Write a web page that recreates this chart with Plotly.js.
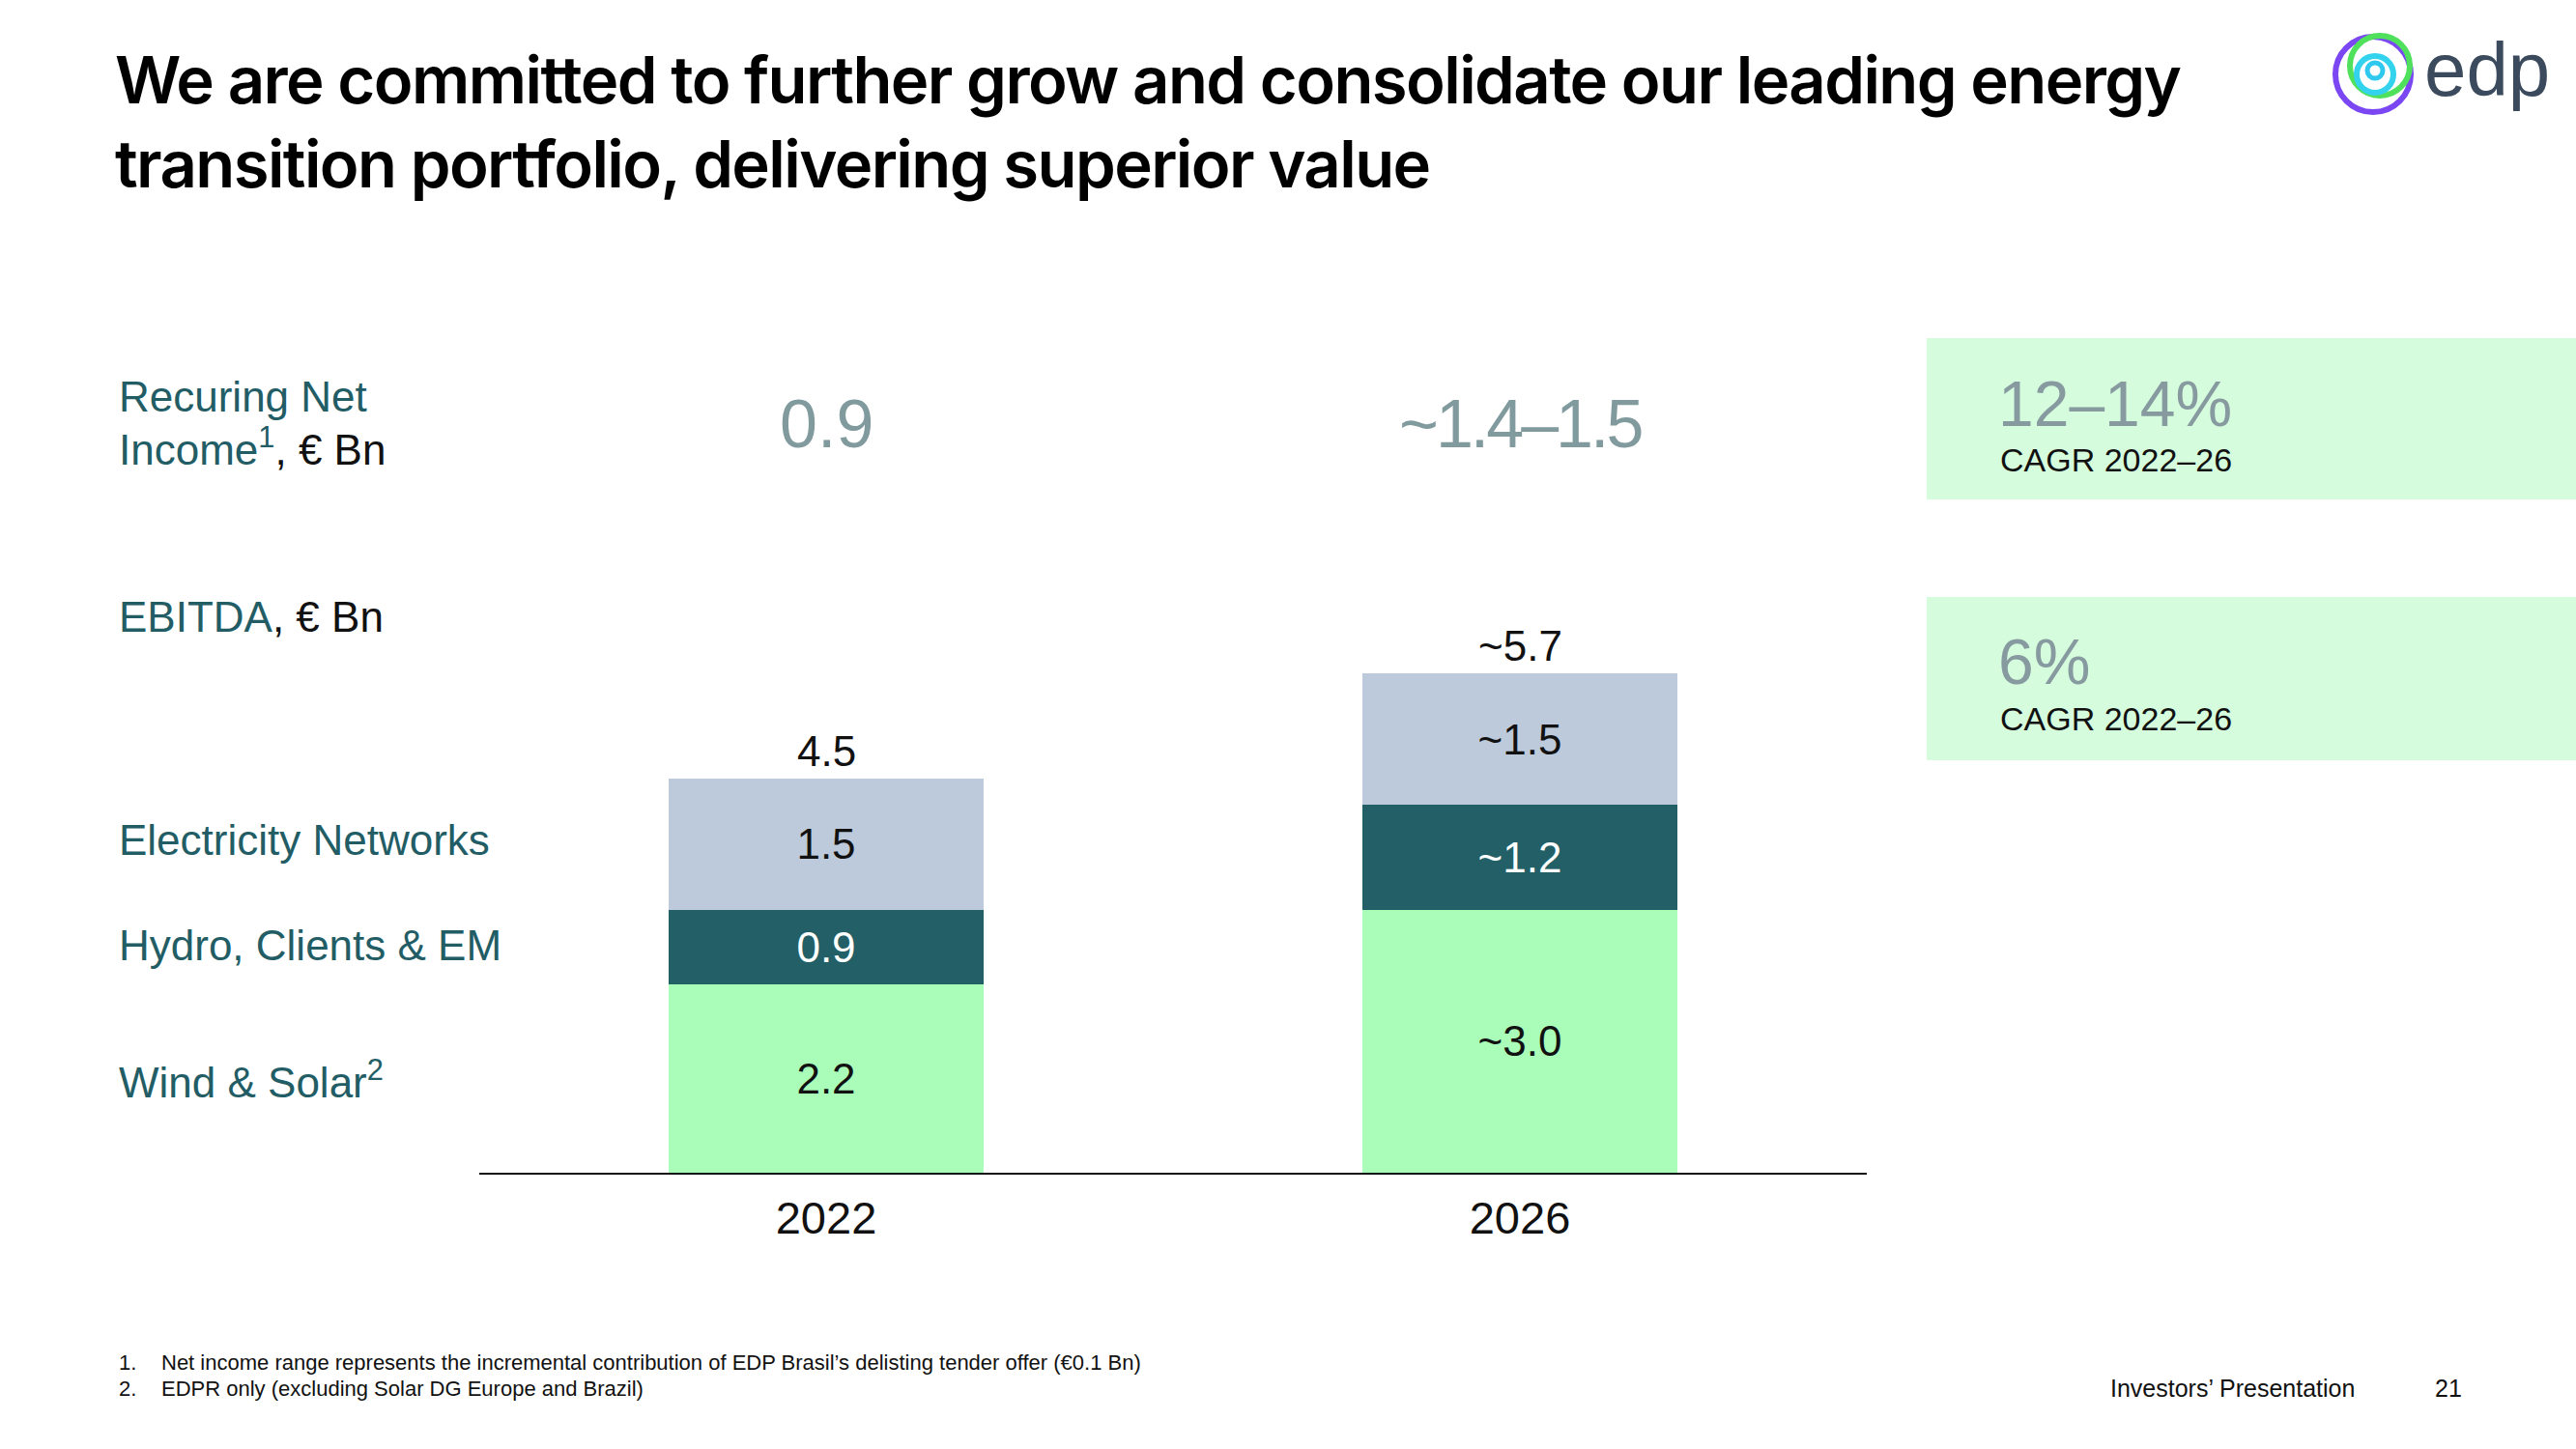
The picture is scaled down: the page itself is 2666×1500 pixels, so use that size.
<!DOCTYPE html>
<html><head><meta charset="utf-8">
<script src="https://cdn.plot.ly/plotly-3.0.1.min.js"></script>
<style>
html,body{margin:0;padding:0;background:#fff;}
#chart{width:2666px;height:1500px;}
.gtitle{letter-spacing:-1.6px;}
.annotation[data-index="3"] .annotation-text{letter-spacing:-3px;}
</style></head>
<body><div id="chart"></div>
<script>
// ---- data ----
const years = ['2022', '2026'];
const windSolar = [2.15, 3.0];
const hydroClients = [0.85, 1.2];
const networks = [1.5, 1.5];
const windLabels = ['2.2', '~3.0'];
const hydroLabels = ['0.9', '~1.2'];
const networkLabels = ['1.5', '~1.5'];
const ebitdaTotals = ['4.5', '~5.7'];
const netIncome = ['0.9', '~1.4–1.5'];
const cagrValues = ['12–14%', '6%'];
const cagrPeriod = 'CAGR 2022–26';
const seriesNames = ['Wind & Solar', 'Hydro, Clients & EM', 'Electricity Networks'];
const footnotes = [
  'Net income range represents the incremental contribution of EDP Brasil’s delisting tender offer (€0.1 Bn)',
  'EDPR only (excluding Solar DG Europe and Brazil)'
];

// ---- helpers ----
const W = 2666, H = 1500;
const px = x => x / W;
const py = y => 1 - y / H;
const FONT = 'Liberation Sans, Arial, sans-serif';
const TEAL = '#225d65';
const GREY = '#809a9e';

const colors = {wind: '#a9fdb8', hydro: '#235f66', net: '#bccadb'};
const barWidth = 0.454;

function barTrace(name, y, text, color, txtColor) {
  return {
    type: 'bar', name: name, x: years, y: y, text: text,
    textposition: 'inside', insidetextanchor: 'middle', constraintext: 'none',
    textfont: {family: FONT, size: 44, color: txtColor},
    marker: {color: color, line: {width: 0}},
    width: barWidth, hoverinfo: 'skip', showlegend: false
  };
}

const data = [
  barTrace(seriesNames[0], windSolar, windLabels, colors.wind, '#111'),
  barTrace(seriesNames[1], hydroClients, hydroLabels, colors.hydro, '#ffffff'),
  barTrace(seriesNames[2], networks, networkLabels, colors.net, '#111')
];

const annotations = [];
// totals above bars and net income row (category axis: position by category index)
years.forEach((yr, i) => {
  annotations.push({
    x: i, y: windSolar[i] + hydroClients[i] + networks[i], xref: 'x', yref: 'y',
    text: ebitdaTotals[i], showarrow: false, yanchor: 'bottom', yshift: 2,
    font: {family: FONT, size: 44, color: '#111'}
  });
  annotations.push({
    x: i, y: py(439), xref: 'x', yref: 'paper',
    text: netIncome[i], showarrow: false, yanchor: 'middle',
    font: {family: FONT, size: 70, color: GREY}
  });
});

// left labels
function leftLabel(text, y, size) {
  annotations.push({
    x: px(121), y: py(y), xref: 'paper', yref: 'paper', xanchor: 'left', yanchor: 'middle',
    align: 'left', text: text, showarrow: false,
    font: {family: FONT, size: size || 44, color: TEAL}
  });
}
leftLabel('Recuring Net', 410);
leftLabel('Income<sup>1</sup><span style="color:#111">, € Bn</span>', 462);
leftLabel('EBITDA<span style="color:#111">, € Bn</span>', 639);
leftLabel(seriesNames[2], 869);
leftLabel(seriesNames[1], 978);
leftLabel(seriesNames[0] + '<sup>2</sup>', 1117);

// CAGR boxes
const cagrY = [[418, 476], [685, 744]];
cagrValues.forEach((v, i) => {
  annotations.push({
    x: px(2066), y: py(cagrY[i][0]), xref: 'paper', yref: 'paper', xanchor: 'left', yanchor: 'middle',
    text: v, showarrow: false, font: {family: FONT, size: 66, color: '#869aa0'}
  });
  annotations.push({
    x: px(2068), y: py(cagrY[i][1]), xref: 'paper', yref: 'paper', xanchor: 'left', yanchor: 'middle',
    text: cagrPeriod, showarrow: false, font: {family: FONT, size: 34, color: '#111'}
  });
});

// footnotes
const fnY = [1410, 1437];
footnotes.forEach((t, i) => {
  annotations.push({
    x: px(121), y: py(fnY[i]), xref: 'paper', yref: 'paper', xanchor: 'left', yanchor: 'middle',
    text: (i + 1) + '.', showarrow: false, font: {family: FONT, size: 22, color: '#111'}
  });
  annotations.push({
    x: px(165), y: py(fnY[i]), xref: 'paper', yref: 'paper', xanchor: 'left', yanchor: 'middle',
    text: t, showarrow: false, font: {family: FONT, size: 22, color: '#111'}
  });
});
annotations.push({
  x: px(2182), y: py(1437), xref: 'paper', yref: 'paper', xanchor: 'left', yanchor: 'middle',
  text: 'Investors’ Presentation', showarrow: false, font: {family: FONT, size: 25, color: '#111'}
});
annotations.push({
  x: px(2534), y: py(1437), xref: 'paper', yref: 'paper', xanchor: 'center', yanchor: 'middle',
  text: '21', showarrow: false, font: {family: FONT, size: 25, color: '#111'}
});
// logo wordmark
annotations.push({
  x: px(2507), y: py(72), xref: 'paper', yref: 'paper', xanchor: 'left', yanchor: 'middle',
  text: 'edp', showarrow: false, font: {family: FONT, size: 78, color: '#3b4a5c'}
});

function circle(cx, cy, r, color, w) {
  return {type: 'circle', xref: 'paper', yref: 'paper',
    x0: px(cx - r), x1: px(cx + r), y0: py(cy + r), y1: py(cy - r),
    line: {color: color, width: w}, fillcolor: 'rgba(0,0,0,0)'};
}

const shapes = [
  {type: 'rect', xref: 'paper', yref: 'paper', x0: px(1994), x1: 1, y0: py(517), y1: py(350),
   fillcolor: '#d5fddd', line: {width: 0}, layer: 'below'},
  {type: 'rect', xref: 'paper', yref: 'paper', x0: px(1994), x1: 1, y0: py(787), y1: py(618),
   fillcolor: '#d5fddd', line: {width: 0}, layer: 'below'},
  circle(2456, 77, 39, '#7a47f2', 6),
  circle(2463, 68, 31, '#4fe05c', 6),
  circle(2458, 77, 19, '#33d3ee', 6),
  circle(2458, 73, 8, '#2fc9f0', 5)
];

const layout = {
  width: W, height: H,
  margin: {l: 0, r: 0, t: 0, b: 0, autoexpand: false},
  paper_bgcolor: '#fff', plot_bgcolor: 'rgba(0,0,0,0)',
  barmode: 'stack',
  title: {
    text: 'We are committed to further grow and consolidate our leading energy<br>transition portfolio, delivering superior value',
    x: px(119), xanchor: 'left', xref: 'container', y: py(107), yanchor: 'top', yref: 'container',
    font: {family: 'Inter, Liberation Sans, sans-serif', size: 67, weight: 600, color: '#000'}
  },
  xaxis: {
    domain: [px(496), px(1932)], type: 'category', range: [-0.5, 1.5],
    showline: true, linecolor: '#111', linewidth: 2, showgrid: false, zeroline: false,
    ticks: '', ticklabelstandoff: 5,
    tickfont: {family: FONT, size: 47, color: '#111'}, fixedrange: true
  },
  yaxis: {
    domain: [py(1214), py(300)], range: [0, (1214 - 300) / 90.7],
    visible: false, showgrid: false, zeroline: false, fixedrange: true
  },
  annotations: annotations,
  shapes: shapes,
  showlegend: false
};

Plotly.newPlot('chart', data, layout, {displayModeBar: false, staticPlot: true});
</script>
</body></html>
